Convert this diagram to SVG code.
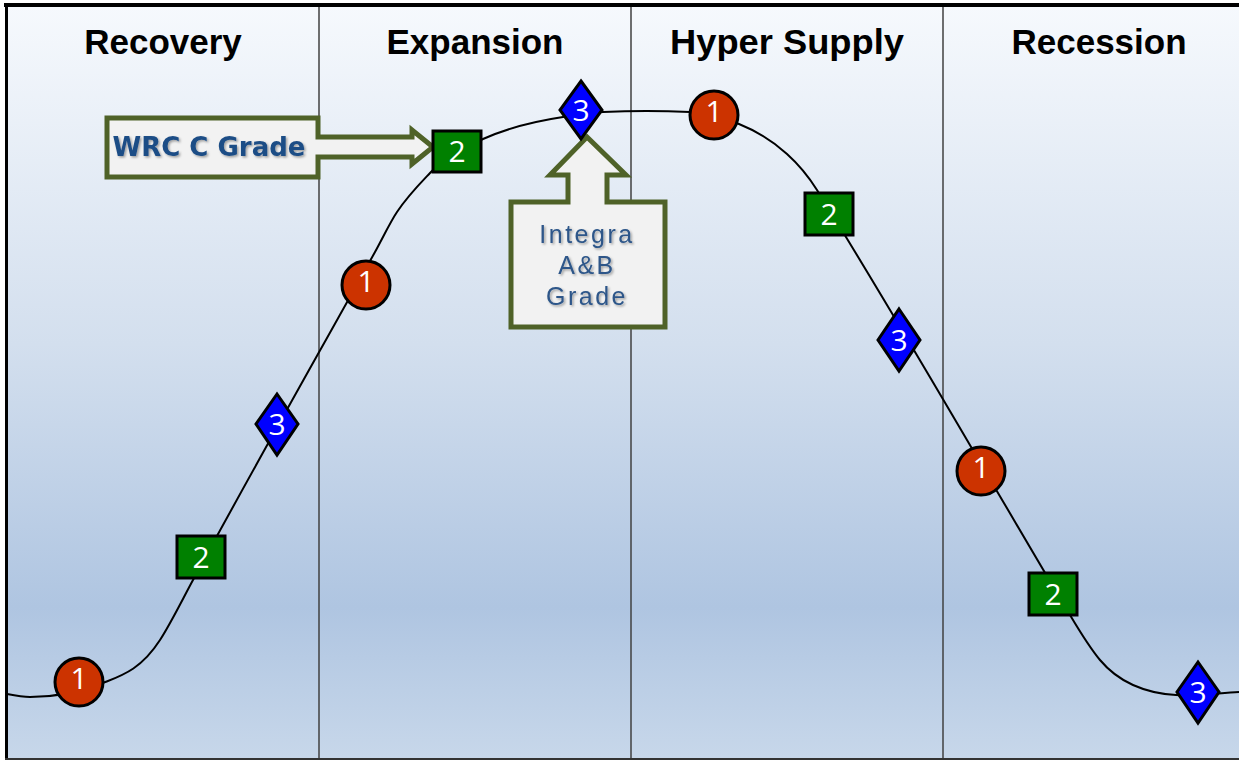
<svg xmlns="http://www.w3.org/2000/svg" width="1239" height="760" viewBox="0 0 1239 760">
<defs>
<linearGradient id="bg" x1="0" y1="0" x2="0" y2="1">
<stop offset="0" stop-color="#f6f9fd"/>
<stop offset="0.45" stop-color="#d3dfee"/>
<stop offset="0.8" stop-color="#afc5e1"/>
<stop offset="1" stop-color="#c7d7ea"/>
</linearGradient>
<filter id="sh" x="-10%" y="-30%" width="130%" height="160%">
<feDropShadow dx="1.5" dy="1.5" stdDeviation="1" flood-color="#000" flood-opacity="0.35"/>
</filter>
</defs>
<style>
.hdr{font-family:"Liberation Sans",Arial,sans-serif;font-weight:bold;font-size:35px;fill:#000;text-anchor:middle}
.div{stroke:#404040;stroke-width:1.5}
.curve{fill:none;stroke:#000;stroke-width:2}
.c1{fill:#cc3300;stroke:#000;stroke-width:3}
.c2{fill:#008000;stroke:#000;stroke-width:3}
.c3{fill:#0000ff;stroke:#000;stroke-width:3;stroke-linejoin:miter}
.num{font-family:"Open Sans","Noto Sans",sans-serif;font-size:30px;fill:#fff;text-anchor:middle}
.call{fill:#f2f2f2;stroke:#4f6228;stroke-width:5;stroke-linejoin:miter}
.wrc{font-family:"DejaVu Sans",Verdana,sans-serif;font-weight:bold;font-size:26px;fill:#1f4e86;text-anchor:middle}
.itg{font-family:"Liberation Sans",Arial,sans-serif;font-size:25px;fill:#2d5689;text-anchor:middle;letter-spacing:2.5px}
</style>
<rect x="0" y="0" width="1239" height="760" fill="#fff"/>
<rect x="7" y="5" width="1232" height="753" fill="url(#bg)"/>
<g id="dividers">
<line class="div" x1="319" y1="5" x2="319" y2="760"/>
<line class="div" x1="631" y1="5" x2="631" y2="760"/>
<line class="div" x1="943" y1="5" x2="943" y2="760"/>
</g>
<g id="border">
<line x1="4" y1="5" x2="1239" y2="5" stroke="#000" stroke-width="4"/>
<line x1="6.5" y1="3" x2="6.5" y2="760" stroke="#000" stroke-width="3"/>
<line x1="5" y1="759" x2="1239" y2="759" stroke="#333" stroke-width="2"/>
</g>
<g id="headers">
<text class="hdr" x="163" y="54">Recovery</text>
<text class="hdr" x="475" y="54">Expansion</text>
<text class="hdr" x="787" y="54" textLength="234" lengthAdjust="spacingAndGlyphs">Hyper Supply</text>
<text class="hdr" x="1099" y="54">Recession</text>
</g>
<g id="connectors">
<path class="curve" d="M7,694 C14.67,695.5 22.33,697 30,697 C54.33,697 78.67,692.73 103,683 C122,675.4 141,669.45 160,640 C171,622.95 182,600.35 193,580 C253.67,467.8 314.33,361.2 375,252 C382.33,238.8 389.67,223 397,212 C408,195.5 419,184.55 430,173 C447.67,154.45 465.33,146.95 483,139 C509.67,127 536.33,121 563,117 C576.33,115 589.67,112.67 603,112 C632,110.55 661,110.55 690,112 C706.33,112.8 722.67,117.5 739,124 C755,130.4 771,139.6 787,154 C797,163 807,174 817,190 C901.33,324.9 985.67,473.3 1070,615 C1080,631.8 1090,648 1100,660 C1111,673.2 1122,680.05 1133,685 C1147.33,691.45 1161.67,694.28 1176,695 C1197,696.05 1218,693.050 1239,692"/>
</g>
<g id="callout-wrc">
<path class="call" d="M107,118 H318 V137 H412 V130 L433,147 L412,164 V157 H318 V177 H107 Z"/>
<text class="wrc" x="209" y="156" filter="url(#sh)">WRC C Grade</text>
</g>
<g id="callout-integra">
<path class="call" d="M511,202 H568 V175 H550 L587,137 L626,175 H607 V202 H665 V327 H511 Z"/>
<g filter="url(#sh)">
<text class="itg" x="587" y="243">Integra</text>
<text class="itg" x="587" y="274">A&amp;B</text>
<text class="itg" x="587" y="305">Grade</text>
</g>
</g>
<g id="n-rec-1"><circle class="c1" cx="79" cy="682" r="24"/><text class="num" x="79" y="689">1</text></g>
<g id="n-rec-2"><rect class="c2" x="177" y="536" width="48" height="42"/><text class="num" x="201" y="568">2</text></g>
<g id="n-rec-3"><path class="c3" d="M277,394 L298,424 L277,455 L256,424 Z"/><text class="num" x="277" y="435">3</text></g>
<g id="n-exp-1"><circle class="c1" cx="366" cy="285" r="24"/><text class="num" x="366" y="292">1</text></g>
<g id="n-exp-2"><rect class="c2" x="433" y="131" width="48" height="41"/><text class="num" x="457" y="162">2</text></g>
<g id="n-exp-3"><path class="c3" d="M581,81 L602,110 L581,139 L560,110 Z"/><text class="num" x="581" y="121">3</text></g>
<g id="n-hyp-1"><circle class="c1" cx="714" cy="115" r="24"/><text class="num" x="714" y="122">1</text></g>
<g id="n-hyp-2"><rect class="c2" x="805" y="193" width="48" height="42"/><text class="num" x="829" y="225">2</text></g>
<g id="n-hyp-3"><path class="c3" d="M899,309 L920,340 L899,371 L878,340 Z"/><text class="num" x="899" y="351">3</text></g>
<g id="n-rcs-1"><circle class="c1" cx="981" cy="471" r="24"/><text class="num" x="981" y="478">1</text></g>
<g id="n-rcs-2"><rect class="c2" x="1029" y="573" width="48" height="42"/><text class="num" x="1053" y="605">2</text></g>
<g id="n-rcs-3"><path class="c3" d="M1198,662 L1219,692 L1198,723 L1177,692 Z"/><text class="num" x="1198" y="703">3</text></g>
</svg>
